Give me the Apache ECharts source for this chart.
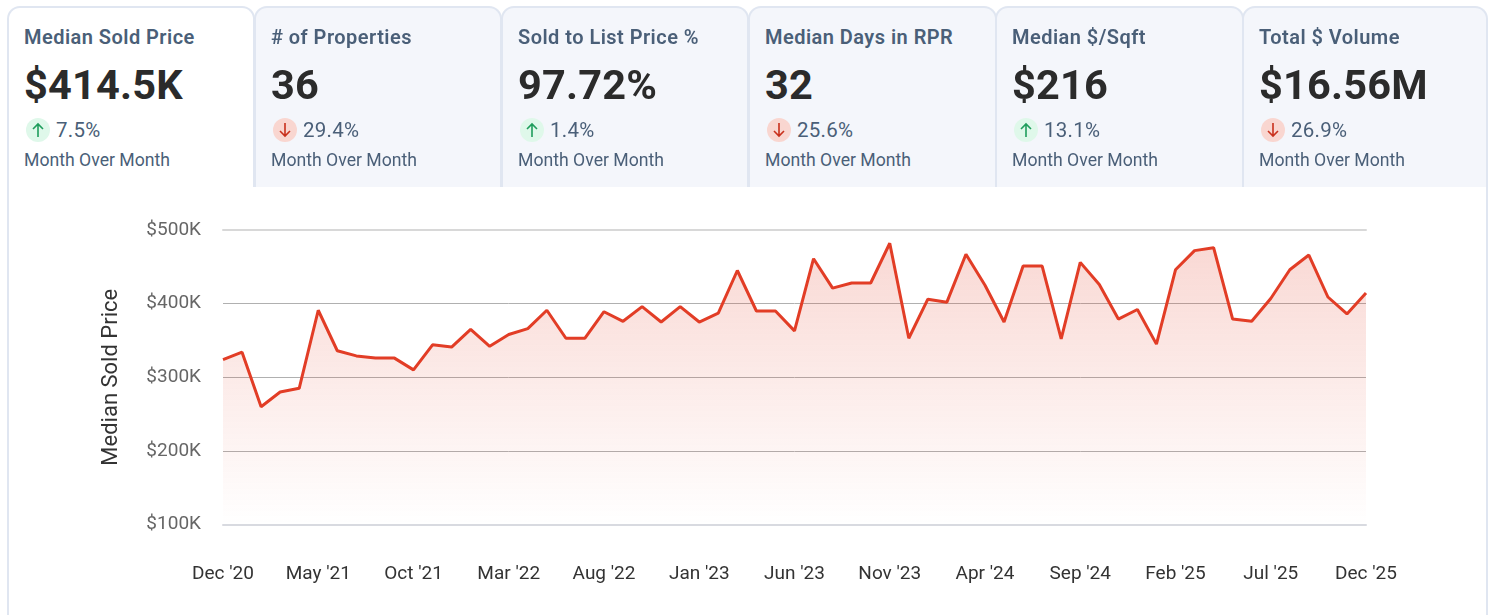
<!DOCTYPE html>
<html>
<head>
<meta charset="utf-8">
<title>Median Sold Price</title>
<script src="https://cdn.jsdelivr.net/npm/echarts@6/dist/echarts.min.js"></script>
<style>
    html, body { margin: 0; padding: 0; background: #fff; font-family: Roboto, sans-serif; }
    #page { position: relative; width: 1498px; height: 615px; overflow: hidden; }
    #myEcharts { position: absolute; left: 0; top: 0; width: 1498px; height: 615px; }
    #frame { position: absolute; left: 7px; top: 186px; width: 1477px; height: 440px;
        border-left: 2px solid #e0e6f1; border-right: 2px solid #e0e6f1; }
    .tab { position: absolute; top: 6px; height: 181px; box-sizing: border-box; background: #f4f6fb;
        border: 2px solid #e0e6f1; border-bottom: 0; border-radius: 13px 13px 0 0; }
    .tab.active { background: #fff; }
    .tab div, .tab svg { position: absolute; white-space: nowrap; }
    .label { left: 15px; top: 16px; font-size: 20px; line-height: 26px; font-weight: 600; color: #4a5f78; letter-spacing: .46px; }
    .value { left: 15px; top: 52px; font-size: 41.5px; line-height: 50px; font-weight: 700; color: #2b2b2b; letter-spacing: .2px; }
    .delta { left: 47px; top: 109px; font-size: 20.5px; line-height: 26px; color: #4a5f78; letter-spacing: .25px; }
    .period { left: 15px; top: 140px; font-size: 17.65px; line-height: 24px; color: #4a5f78; }
    .arrow { left: 17px; top: 110px; }
</style>
</head>
<body>
<div id="page">
    <div id="myEcharts"></div>
    <div id="frame"></div>
    <div id="tabs"></div>
</div>
<script>
// 卡片数据
const cardLabels = ['Median Sold Price', '# of Properties', 'Sold to List Price %', 'Median Days in RPR', 'Median $/Sqft', 'Total $ Volume'];
const cardValues = ['$414.5K', '36', '97.72%', '32', '$216', '$16.56M'];
const cardDeltas = ['7.5%', '29.4%', '1.4%', '25.6%', '13.1%', '26.9%'];
const cardUp = [true, false, true, false, true, false];
const cardLeft = [7, 254, 501, 748, 995, 1242];
const cardWidth = [248, 248, 248, 249, 249, 246];

// 图表数据
const months = [
    "Dec '20", "Jan '21", "Feb '21", "Mar '21", "Apr '21", "May '21", "Jun '21", "Jul '21", "Aug '21", "Sep '21", "Oct '21", "Nov '21",
    "Dec '21", "Jan '22", "Feb '22", "Mar '22", "Apr '22", "May '22", "Jun '22", "Jul '22", "Aug '22", "Sep '22", "Oct '22", "Nov '22",
    "Dec '22", "Jan '23", "Feb '23", "Mar '23", "Apr '23", "May '23", "Jun '23", "Jul '23", "Aug '23", "Sep '23", "Oct '23", "Nov '23",
    "Dec '23", "Jan '24", "Feb '24", "Mar '24", "Apr '24", "May '24", "Jun '24", "Jul '24", "Aug '24", "Sep '24", "Oct '24", "Nov '24",
    "Dec '24", "Jan '25", "Feb '25", "Mar '25", "Apr '25", "May '25", "Jun '25", "Jul '25", "Aug '25", "Sep '25", "Oct '25", "Nov '25",
    "Dec '25"
];
const medianSoldPrice = [
    324, 334, 260, 280, 285, 391, 336, 329, 326, 326, 310, 344,
    341, 365, 342, 358, 366, 391, 353, 353, 389, 376, 396, 375,
    396, 375, 387, 445, 390, 390, 363, 461, 421, 428, 428, 482,
    353, 406, 402, 467, 425, 375, 451, 451, 352, 456, 426, 379,
    392, 345, 446, 472, 476, 379, 376, 407, 446, 466, 409, 386,
    414.5
];

const arrowUp = '<svg class="arrow" width="24" height="24" viewBox="0 0 24 24"><circle cx="12" cy="12" r="12" fill="#dff8ea"/><path d="M12 19V6M7 11l5-5 5 5" fill="none" stroke="#1f9d5c" stroke-width="1.6"/></svg>';
const arrowDown = '<svg class="arrow" width="24" height="24" viewBox="0 0 24 24"><circle cx="12" cy="12" r="12" fill="#f9d6d0"/><path d="M12 5v13M7 13l5 5 5-5" fill="none" stroke="#c9301c" stroke-width="1.6"/></svg>';

document.getElementById('tabs').innerHTML = cardLabels.map((label, i) => `
    <div class="tab${i === 0 ? ' active' : ''}" style="left:${cardLeft[i]}px;width:${cardWidth[i]}px">
        <div class="label">${label}</div>
        <div class="value">${cardValues[i]}</div>
        ${cardUp[i] ? arrowUp : arrowDown}
        <div class="delta">${cardDeltas[i]}</div>
        <div class="period">Month Over Month</div>
    </div>`).join('');

const myEcharts = echarts.init(document.getElementById('myEcharts'));
const option = {
    animation: false,
    textStyle: { fontFamily: 'Roboto' },
    grid: { left: 223, right: 132, top: 230, bottom: 90.5 },
    xAxis: [{
        type: 'category',
        boundaryGap: false,
        data: months,
        axisLine: { lineStyle: { color: '#d8dae0', width: 2 } },
        axisTick: { show: false },
        axisLabel: {
            interval: 4,
            showMinLabel: true,
            showMaxLabel: true,
            margin: 40,
            color: '#333333',
            fontSize: 19
        }
    }, {
        // 顶部那条较粗的浅色线
        type: 'category',
        position: 'top',
        boundaryGap: false,
        data: months,
        axisLine: { lineStyle: { color: '#d8d8d8', width: 2 } },
        axisTick: { show: false },
        axisLabel: { show: false }
    }],
    yAxis: {
        type: 'value',
        min: 100,
        max: 500,
        interval: 100,
        name: 'Median Sold Price',
        nameLocation: 'middle',
        nameGap: 101,
        nameTextStyle: { color: '#333333', fontSize: 22 },
        axisLine: { show: false },
        axisTick: { show: false },
        axisLabel: {
            margin: 22,
            color: '#666666',
            fontSize: 19,
            formatter: '${value}K'
        },
        splitLine: {
            show: true,
            lineStyle: { color: ['#d8dae0', '#b0b0b0', '#b0b0b0', '#b0b0b0', '#d8d8d8'], width: 1 }
        }
    },
    series: [{
        type: 'line',
        data: medianSoldPrice,
        symbol: 'none',
        lineStyle: { color: '#e23d26', width: 3 },
        itemStyle: { color: '#e23d26' },
        areaStyle: {
            opacity: 1,
            color: new echarts.graphic.LinearGradient(0, 0, 0, 1, [{
                offset: 0,
                color: 'rgba(226, 61, 38, 0.2)'
            }, {
                offset: 1,
                color: 'rgba(226, 61, 38, 0)'
            }])
        }
    }]
};
myEcharts.setOption(option);
</script>
</body>
</html>
